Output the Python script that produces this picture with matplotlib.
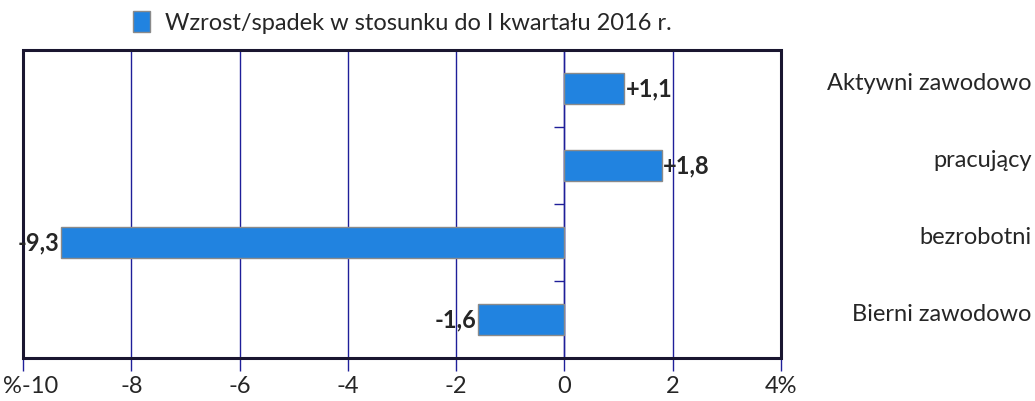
import matplotlib
matplotlib.use('Agg')
import matplotlib.pyplot as plt
import matplotlib.transforms as mtransforms
from matplotlib.patches import Rectangle

plt.rcParams['font.family'] = ['Lato', 'DejaVu Sans']

# dane
categories = ['Aktywni zawodowo', 'pracujący', 'bezrobotni', 'Bierni zawodowo']
values = [1.1, 1.8, -9.3, -1.6]
value_labels = ['+1,1', '+1,8', '-9,3', '-1,6']
xticks = [-10, -8, -6, -4, -2, 0, 2, 4]
xticklabels = ['%-10', '-8', '-6', '-4', '-2', '0', '2', '4%']
legend_label = 'Wzrost/spadek w stosunku do I kwartału 2016 r.'

bar_color = '#2183e0'
grid_color = '#1f1f99'
frame_color = '#1a1630'
text_color = '#262626'
fs = 17

fig = plt.figure(figsize=(10.35, 4.01), dpi=100)
ax = fig.add_axes([0.0222, 0.1072, 0.7324, 0.7681])

ypos = list(range(len(categories)))
bars = ax.barh(ypos, values, height=0.4, color=bar_color, edgecolor='#8a8a8a',
               linewidth=1, label=legend_label, zorder=3)

ax.set_xlim(-10, 4)
ax.set_ylim(len(categories) - 0.5, -0.5)

# siatka pionowa
ax.set_xticks(xticks)
ax.set_xticklabels(xticklabels, fontsize=fs, color=text_color)
ax.grid(axis='x', color=grid_color, linewidth=1, zorder=1)
ax.tick_params(axis='x', direction='out', length=9, width=1, color=grid_color, pad=4)
# pierwsza etykieta przesunieta w prawo, zeby sie miescila
first = ax.get_xticklabels()[0]
first.set_transform(first.get_transform() + mtransforms.ScaledTranslation(8 / 100, 0, fig.dpi_scale_trans))

# os y w zerze, kreski miedzy kategoriami
for s in ['top', 'right', 'bottom']:
    ax.spines[s].set_visible(False)
ax.spines['left'].set_position(('data', 0))
ax.spines['left'].set_color(grid_color)
ax.spines['left'].set_linewidth(1)
ax.set_yticks([i + 0.5 for i in ypos[:-1]])
ax.set_yticklabels([])
ax.tick_params(axis='y', direction='out', length=7, width=1, color=grid_color)

# ramka
ax.add_patch(Rectangle((0, 0), 1, 1, transform=ax.transAxes, fill=False,
                       edgecolor=frame_color, linewidth=2.2, clip_on=False, zorder=5))

# etykiety wartosci
for b, v, lab in zip(bars, values, value_labels):
    yc = b.get_y() + b.get_height() / 2
    if v >= 0:
        ax.annotate(lab, (v, yc), xytext=(1, 0), textcoords='offset points',
                    ha='left', va='center', fontsize=fs, fontweight='bold',
                    color=text_color, zorder=6)
    else:
        ax.annotate(lab, (v, yc), xytext=(-1, 0), textcoords='offset points',
                    ha='right', va='center', fontsize=fs, fontweight='bold',
                    color=text_color, zorder=6)

# nazwy kategorii po prawej (troche wyzej niz srodek slupka)
trans = mtransforms.blended_transform_factory(fig.transFigure, ax.transData)
trans = trans + mtransforms.ScaledTranslation(0, 5 / 100, fig.dpi_scale_trans)
for y, name in zip(ypos, categories):
    ax.text(0.9965, y, name, transform=trans, ha='right', va='center',
            fontsize=fs, color=text_color)

leg = ax.legend(loc='center', bbox_to_anchor=(0.5, 1.09), frameon=False,
                fontsize=fs, handlelength=0.75, handleheight=1.0, handletextpad=0.6,
                labelcolor=text_color)

fig.savefig('out.png', dpi=100)
